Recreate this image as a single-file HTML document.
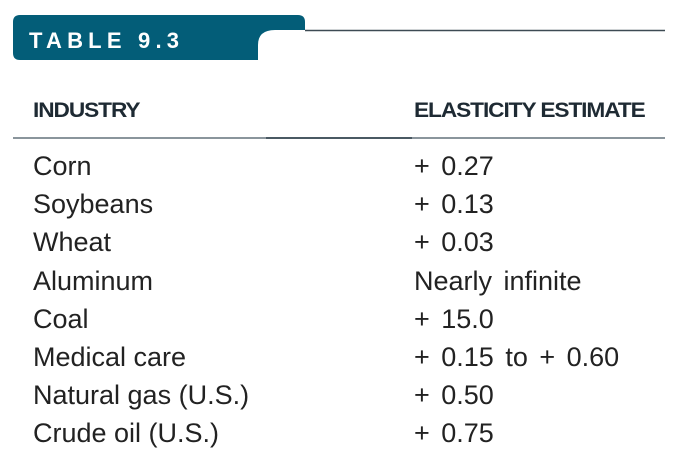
<!DOCTYPE html>
<html><head><meta charset="utf-8">
<style>
body{margin:0;width:700px;height:462px;background:#fff;font-family:"Liberation Sans",sans-serif;position:relative;overflow:hidden}
.abs{position:absolute}
.hdr{font-weight:bold;font-size:21px;color:#1e2a33;top:99px;letter-spacing:-1px;transform:scaleX(1.08);transform-origin:left}
.row{font-size:27px;color:#222;line-height:38.2px;letter-spacing:0px}
</style></head><body>
<svg class="abs" style="left:0;top:0" width="700" height="70">
<path d="M13,22 Q13,15 20,15 L298,15 Q305,15 305,22 L305,30 L275,30 Q258,30 258,45 L258,60 L20,60 Q13,60 13,53 Z" fill="#035d78"/>
<line x1="305" y1="30.5" x2="665" y2="30.5" stroke="#3d4a53" stroke-width="1.5"/>
<text x="29" y="48" fill="#fff" font-family="Liberation Sans" font-weight="bold" font-size="22" letter-spacing="5.2">TABLE 9.3</text>
</svg>
<div class="abs hdr" style="left:33px">INDUSTRY</div>
<div class="abs hdr" style="left:414px">ELASTICITY ESTIMATE</div>
<div class="abs" style="left:13px;top:137px;width:652px;height:2px;background:#8a959c"></div>
<div class="abs" style="left:266px;top:137px;width:146px;height:2px;background:#4a5963"></div>
<div class="abs row" style="left:33px;top:147px">
Corn<br>Soybeans<br>Wheat<br>Aluminum<br>Coal<br>Medical care<br>Natural gas (U.S.)<br>Crude oil (U.S.)</div>
<div class="abs row" style="left:414px;top:147px;word-spacing:4px">
+ 0.27<br>+ 0.13<br>+ 0.03<br>Nearly infinite<br>+ 15.0<br>+ 0.15 to + 0.60<br>+ 0.50<br>+ 0.75</div>
</body></html>
